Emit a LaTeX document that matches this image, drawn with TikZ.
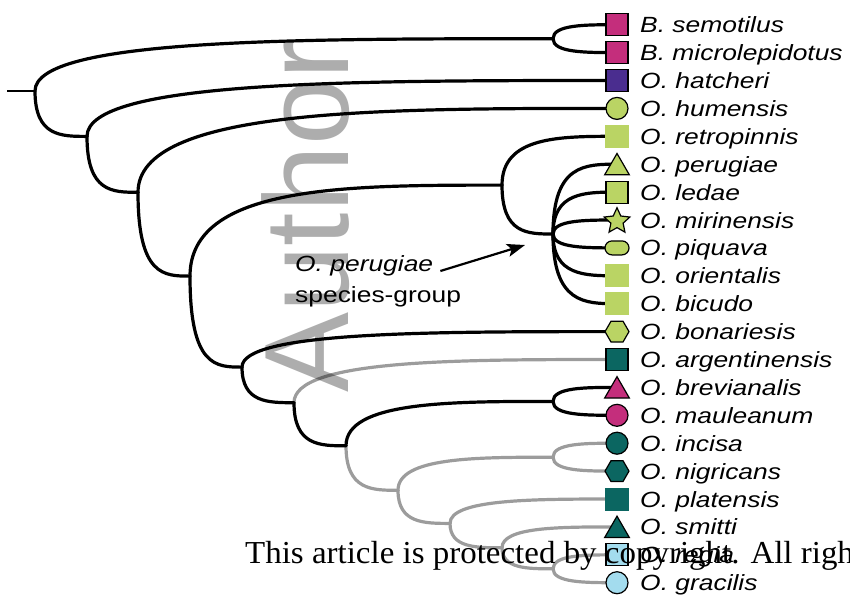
\documentclass[tikz,border=0pt]{standalone}
\usepackage{fontspec}
\setmainfont{Liberation Sans}
\newfontfamily\taxonfont{Liberation Sans}
\newfontfamily\stampfont{Liberation Sans}
\newfontfamily\noticefont[FakeStretch=1.03]{Liberation Serif}
\newcommand{\widen}[1]{\scalebox{1.2}[1]{#1}}
\usetikzlibrary{arrows.meta,positioning,calc,shapes.geometric}
\definecolor{FishPink}{HTML}{C42E7C}
\definecolor{FishPurple}{HTML}{4A2D8F}
\definecolor{FishLime}{HTML}{BAD464}
\definecolor{FishTeal}{HTML}{0B6661}
\definecolor{FishSky}{HTML}{A3DCEE}
\definecolor{BranchGrey}{HTML}{9C9C9C}

\tikzset{
  clade/.style={line width=3.2pt, line cap=round},
  cladegrey/.style={clade, draw=BranchGrey},
  swoop/.style={to path={.. controls (\tikztostart |- \tikztotarget) and ($(\tikztostart |- \tikztotarget)!0.5!(\tikztotarget)$) .. (\tikztotarget)}},
  tipmark/.style={draw=black, line width=1.2pt, inner sep=0pt},
  sqmark/.style={tipmark, rectangle, minimum size=22pt},
  flatmark/.style={rectangle, inner sep=0pt, minimum width=24pt, minimum height=23pt},
  dotmark/.style={tipmark, circle, minimum size=22pt},
  trimark/.style={tipmark, regular polygon, regular polygon sides=3, minimum size=28.5pt, yshift=-3.5pt},
  hexmark/.style={tipmark, regular polygon, regular polygon sides=6, minimum size=24pt},
  starmark/.style={tipmark, star, star points=5, star point ratio=2.1, minimum size=27pt, yshift=-1.2pt},
  pillmark/.style={tipmark, rectangle, rounded corners=7pt, minimum width=24pt, minimum height=14pt},
  taxon/.style={anchor=base west, inner sep=0pt, font=\taxonfont\itshape\fontsize{22}{26}\selectfont},
  pointer/.style={line width=2.2pt, -{Stealth[length=18pt, width=13pt, inset=4pt]}},
}

\begin{document}
\begin{tikzpicture}[x=1pt, y=-1pt]
  \useasboundingbox (0,0) rectangle (850,598);
  \clip (0,0) rectangle (850,598);

  % tips
  \coordinate (semotilus) at (617,24.7);
  \coordinate (microlep) at (617,52.6);
  \coordinate (hatcheri) at (617,80.5);
  \coordinate (humensis) at (617,108.4);
  \coordinate (retropinnis) at (617,136.3);
  \coordinate (perugiae) at (617,164.2);
  \coordinate (ledae) at (617,192.1);
  \coordinate (mirinensis) at (617,220.0);
  \coordinate (piquava) at (617,247.9);
  \coordinate (orientalis) at (617,275.8);
  \coordinate (bicudo) at (617,303.7);
  \coordinate (bonariesis) at (617,331.6);
  \coordinate (argentinensis) at (617,359.5);
  \coordinate (brevianalis) at (617,387.4);
  \coordinate (mauleanum) at (617,415.3);
  \coordinate (incisa) at (617,443.2);
  \coordinate (nigricans) at (617,471.1);
  \coordinate (platensis) at (617,499.0);
  \coordinate (smitti) at (617,526.9);
  \coordinate (regia) at (617,554.8);
  \coordinate (gracilis) at (617,582.7);

  % internal nodes
  \coordinate (stem) at (7,91);
  \coordinate (root) at (35,91);
  \coordinate (bryco) at (553,38.7);
  \coordinate (n1) at (87,136.4);
  \coordinate (n2) at (138,192.3);
  \coordinate (n3) at (190,276.1);
  \coordinate (perGroup) at (502,185.1);
  \coordinate (perFan) at (553,234);
  \coordinate (n4) at (242,367.1);
  \coordinate (n5) at (294,402.7);
  \coordinate (n6) at (346,445.8);
  \coordinate (breMau) at (553,401.4);
  \coordinate (n7) at (398,490.3);
  \coordinate (incNig) at (553,457.2);
  \coordinate (n8) at (450,523.4);
  \coordinate (n9) at (502,547.8);
  \coordinate (regGra) at (553,568.8);

  % grey branches
  \draw[cladegrey] (n5) to[swoop] (argentinensis);
  \draw[cladegrey] (n6) to[swoop] (n7);
  \draw[cladegrey] (n7) to[swoop] (incNig);
  \draw[cladegrey] (incNig) to[swoop] (incisa);
  \draw[cladegrey] (incNig) to[swoop] (nigricans);
  \draw[cladegrey] (n7) to[swoop] (n8);
  \draw[cladegrey] (n8) to[swoop] (platensis);
  \draw[cladegrey] (n8) to[swoop] (n9);
  \draw[cladegrey] (n9) to[swoop] (smitti);
  \draw[cladegrey] (n9) to[swoop] (regGra);
  \draw[cladegrey] (regGra) to[swoop] (regia);
  \draw[cladegrey] (regGra) to[swoop] (gracilis);

  % black branches
  \draw[clade, line cap=butt, line width=2.6pt] (stem) -- (root);
  \draw[clade] (root) to[swoop] (bryco);
  \draw[clade] (bryco) to[swoop] (semotilus);
  \draw[clade] (bryco) to[swoop] (microlep);
  \draw[clade] (root) to[swoop] (n1);
  \draw[clade] (n1) to[swoop] (hatcheri);
  \draw[clade] (n1) to[swoop] (n2);
  \draw[clade] (n2) to[swoop] (humensis);
  \draw[clade] (n2) to[swoop] (n3);
  \draw[clade] (n3) to[swoop] (perGroup);
  \draw[clade] (perGroup) to[swoop] (retropinnis);
  \draw[clade] (perGroup) to[swoop] (perFan);
  \draw[clade] (perFan) to[swoop] (perugiae);
  \draw[clade] (perFan) to[swoop] (ledae);
  \draw[clade] (perFan) to[swoop] (mirinensis);
  \draw[clade] (perFan) to[swoop] (piquava);
  \draw[clade] (perFan) to[swoop] (orientalis);
  \draw[clade] (perFan) to[swoop] (bicudo);
  \draw[clade] (n3) to[swoop] (n4);
  \draw[clade] (n4) to[swoop] (bonariesis);
  \draw[clade] (n4) to[swoop] (n5);
  \draw[clade] (n5) to[swoop] (n6);
  \draw[clade] (n6) to[swoop] (breMau);
  \draw[clade] (breMau) to[swoop] (brevianalis);
  \draw[clade] (breMau) to[swoop] (mauleanum);

  % tip marks
  \node[sqmark, fill=FishPink] (semMark) at (semotilus) {};
  \node[sqmark, fill=FishPink] (micMark) at (microlep) {};
  \node[sqmark, fill=FishPurple] (hatMark) at (hatcheri) {};
  \node[dotmark, fill=FishLime] (humMark) at (humensis) {};
  \node[flatmark, fill=FishLime] (retMark) at (retropinnis) {};
  \node[trimark, fill=FishLime] (perMark) at (perugiae) {};
  \node[sqmark, fill=FishLime] (ledMark) at (ledae) {};
  \node[starmark, fill=FishLime] (mirMark) at (mirinensis) {};
  \node[pillmark, fill=FishLime] (piqMark) at (piquava) {};
  \node[flatmark, fill=FishLime] (oriMark) at (orientalis) {};
  \node[flatmark, fill=FishLime] (bicMark) at (bicudo) {};
  \node[hexmark, fill=FishLime] (bonMark) at (bonariesis) {};
  \node[sqmark, fill=FishTeal] (argMark) at (argentinensis) {};
  \node[trimark, fill=FishPink] (breMark) at (brevianalis) {};
  \node[dotmark, fill=FishPink] (mauMark) at (mauleanum) {};
  \node[dotmark, fill=FishTeal] (incMark) at (incisa) {};
  \node[hexmark, fill=FishTeal] (nigMark) at (nigricans) {};
  \node[flatmark, fill=FishTeal] (plaMark) at (platensis) {};
  \node[trimark, fill=FishTeal] (smiMark) at (smitti) {};
  \node[sqmark, fill=FishSky] (regMark) at (regia) {};
  \node[dotmark, fill=FishSky] (graMark) at (gracilis) {};

  % tip names
  \node[taxon] (semName) at ([xshift=23pt, yshift=-8pt]semotilus) {\widen{B. semotilus}};
  \node[taxon] (micName) at ([xshift=23pt, yshift=-8pt]microlep) {\widen{B. microlepidotus}};
  \node[taxon] (hatName) at ([xshift=23pt, yshift=-8pt]hatcheri) {\widen{O. hatcheri}};
  \node[taxon] (humName) at ([xshift=23pt, yshift=-8pt]humensis) {\widen{O. humensis}};
  \node[taxon] (retName) at ([xshift=23pt, yshift=-8pt]retropinnis) {\widen{O. retropinnis}};
  \node[taxon] (perName) at ([xshift=23pt, yshift=-8pt]perugiae) {\widen{O. perugiae}};
  \node[taxon] (ledName) at ([xshift=23pt, yshift=-8pt]ledae) {\widen{O. ledae}};
  \node[taxon] (mirName) at ([xshift=23pt, yshift=-8pt]mirinensis) {\widen{O. mirinensis}};
  \node[taxon] (piqName) at ([xshift=23pt, yshift=-8pt]piquava) {\widen{O. piquava}};
  \node[taxon] (oriName) at ([xshift=23pt, yshift=-8pt]orientalis) {\widen{O. orientalis}};
  \node[taxon] (bicName) at ([xshift=23pt, yshift=-8pt]bicudo) {\widen{O. bicudo}};
  \node[taxon] (bonName) at ([xshift=23pt, yshift=-8pt]bonariesis) {\widen{O. bonariesis}};
  \node[taxon] (argName) at ([xshift=23pt, yshift=-8pt]argentinensis) {\widen{O. argentinensis}};
  \node[taxon] (breName) at ([xshift=23pt, yshift=-8pt]brevianalis) {\widen{O. brevianalis}};
  \node[taxon] (mauName) at ([xshift=23pt, yshift=-8pt]mauleanum) {\widen{O. mauleanum}};
  \node[taxon] (incName) at ([xshift=23pt, yshift=-8pt]incisa) {\widen{O. incisa}};
  \node[taxon] (nigName) at ([xshift=23pt, yshift=-8pt]nigricans) {\widen{O. nigricans}};
  \node[taxon] (plaName) at ([xshift=23pt, yshift=-8pt]platensis) {\widen{O. platensis}};
  \node[taxon] (smiName) at ([xshift=23pt, yshift=-8pt]smitti) {\widen{O. smitti}};
  \node[taxon] (regName) at ([xshift=23pt, yshift=-8pt]regia) {\widen{O. regia}};
  \node[taxon] (graName) at ([xshift=23pt, yshift=-8pt]gracilis) {\widen{O. gracilis}};

  % species-group call-out
  \node[taxon] (groupName) at (295,271) {\widen{O. perugiae}};
  \node[taxon, font=\taxonfont\fontsize{22}{26}\selectfont] (groupWord) at (295,302) {\widen{species-group}};
  \coordinate (groupTip) at (525,245);
  \draw[pointer] ([xshift=7pt]groupName.base east) -- (groupTip);

  % watermark and notice
  \node[rotate=90, anchor=base west, inner sep=0pt, opacity=0.32, font=\stampfont\fontsize{120}{120}\selectfont] (stamp) at (348,393) {Author Manuscript};
  \node[anchor=base west, inner sep=0pt, font=\noticefont\fontsize{32}{32}\selectfont] (notice) at (245,563) {This article is protected by copyright. All rights reserved.};
\end{tikzpicture}
\end{document}
